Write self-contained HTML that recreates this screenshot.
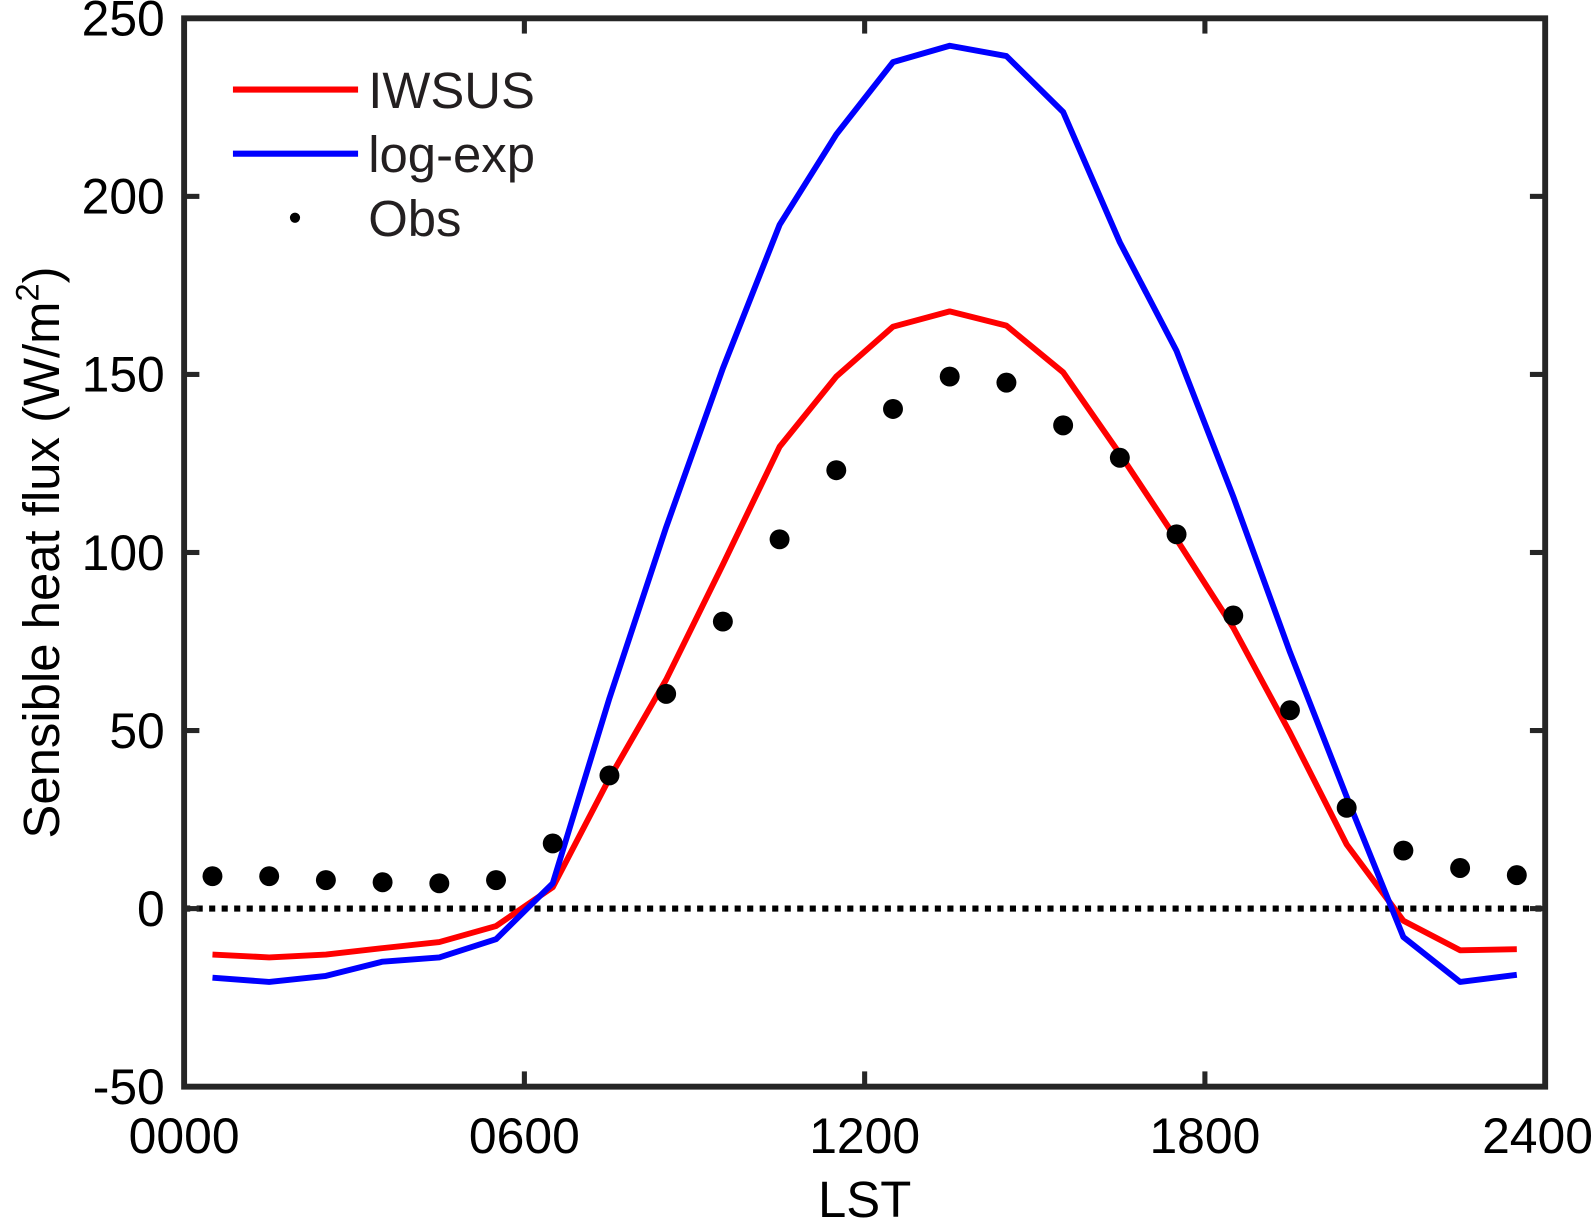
<!DOCTYPE html>
<html><head><meta charset="utf-8"><style>
body{margin:0;background:#fff}
svg{display:block;font-family:"Liberation Sans",Arial,sans-serif}
</style></head><body>
<svg id="chart" width="1594" height="1223" viewBox="0 0 1567 1202" preserveAspectRatio="none">
<g id="marks"></g>
<g id="axes"></g>
<g>
 <line x1="229" y1="88" x2="352" y2="88" stroke="#ff0000" stroke-width="6"/>
 <text x="362" y="106" font-size="50" fill="#231f20">IWSUS</text>
 <line x1="229" y1="151" x2="352" y2="151" stroke="#0000ff" stroke-width="6"/>
 <text x="362" y="169" font-size="50" fill="#231f20">log-exp</text>
 <circle cx="290" cy="214" r="5" fill="#000"/>
 <text x="362" y="232" font-size="50" fill="#231f20">Obs</text>
</g>
</svg>
<script>
const hours=[0.5,1.5,2.5,3.5,4.5,5.5,6.5,7.5,8.5,9.5,10.5,11.5,12.5,13.5,14.5,15.5,16.5,17.5,18.5,19.5,20.5,21.5,22.5,23.5];
const obs=[9.1,9.1,8,7.4,7.1,8,18.3,37.4,60.3,80.6,103.7,123.1,140.3,149.4,147.7,135.7,126.6,105.1,82.3,55.7,28.3,16.3,11.4,9.4];
const iwsus=[-12.9,-13.7,-12.9,-11.1,-9.4,-4.9,6,36.6,64.3,96.6,129.7,149.4,163.4,167.7,163.7,150.6,127.7,103.7,78.9,49.4,18,-3.4,-11.7,-11.4];
const logexp=[-19.4,-20.6,-18.9,-14.9,-13.7,-8.6,7.1,59.1,107.1,151.7,192,217.4,237.7,242.3,239.4,223.7,187.1,156.6,115.7,72,31.4,-8,-20.6,-18.6];
const xTicks=[0,6,12,18,24];
const xTickLabels=["0000","0600","1200","1800","2400"];
const yTicks=[-50,0,50,100,150,200,250];

const L=181,R=1519,T=18,B=1068;
const xs=h=>L+(h/24)*(R-L);
const ys=v=>B-(v+50)/300*(B-T);
const NS="http://www.w3.org/2000/svg";
const marks=document.getElementById('marks'),axes=document.getElementById('axes');
function mk(tag,attrs,parent){const e=document.createElementNS(NS,tag);for(const k in attrs)e.setAttribute(k,attrs[k]);parent.appendChild(e);return e;}

const zl=mk('line',{x1:L,x2:R,y1:ys(0),y2:ys(0),stroke:'#000','stroke-width':6,'stroke-dasharray':'6 6.3'},marks);



const p1=mk('polyline',{points:hours.map((h,i)=>xs(h)+','+ys(iwsus[i])).join(' '),fill:'none',stroke:'#ff0000','stroke-width':5.8,'stroke-linejoin':'round'},marks);


const p2=mk('polyline',{points:hours.map((h,i)=>xs(h)+','+ys(logexp[i])).join(' '),fill:'none',stroke:'#0000ff','stroke-width':5.8,'stroke-linejoin':'round'},marks);


hours.forEach((h,i)=>{
 const c=mk('circle',{cx:xs(h),cy:ys(obs[i]),r:9.8,fill:'#000'},marks);
 
 
});

const frame=mk('rect',{x:L,y:T,width:R-L,height:B-T,fill:'none',stroke:'#262626','stroke-width':5.8},axes);


xTicks.forEach((t,i)=>{
 const x=xs(t);
 mk('line',{x1:x,x2:x,y1:B,y2:B-15,stroke:'#262626','stroke-width':5},axes);
 mk('line',{x1:x,x2:x,y1:T,y2:T+15,stroke:'#262626','stroke-width':5},axes);
 const last=(i===xTicks.length-1);
 const tx=mk('text',{x:last?1566:x,y:1133,'font-size':49,'text-anchor':last?'end':'middle',fill:'#000'},axes);
 tx.textContent=xTickLabels[i];
 
 
});
yTicks.forEach(t=>{
 const y=ys(t);
 mk('line',{x1:L,x2:L+15,y1:y,y2:y,stroke:'#262626','stroke-width':5},axes);
 mk('line',{x1:R,x2:R-15,y1:y,y2:y,stroke:'#262626','stroke-width':5},axes);
 const tx=mk('text',{x:162,y:y+17,'font-size':49,'text-anchor':'end',fill:'#000'},axes);
 tx.textContent=t;
 
 
});
const xt=mk('text',{x:(L+R)/2,y:1196,'font-size':50,'text-anchor':'middle',fill:'#000'},axes);
xt.textContent='LST';


const yt=mk('text',{transform:'translate(58,543) rotate(-90)','font-size':50,'text-anchor':'middle',fill:'#000'},axes);
yt.innerHTML='Sensible heat flux (W/m<tspan dy="-20" font-size="32">2</tspan><tspan dy="20">)</tspan>';


</script>
</body></html>
